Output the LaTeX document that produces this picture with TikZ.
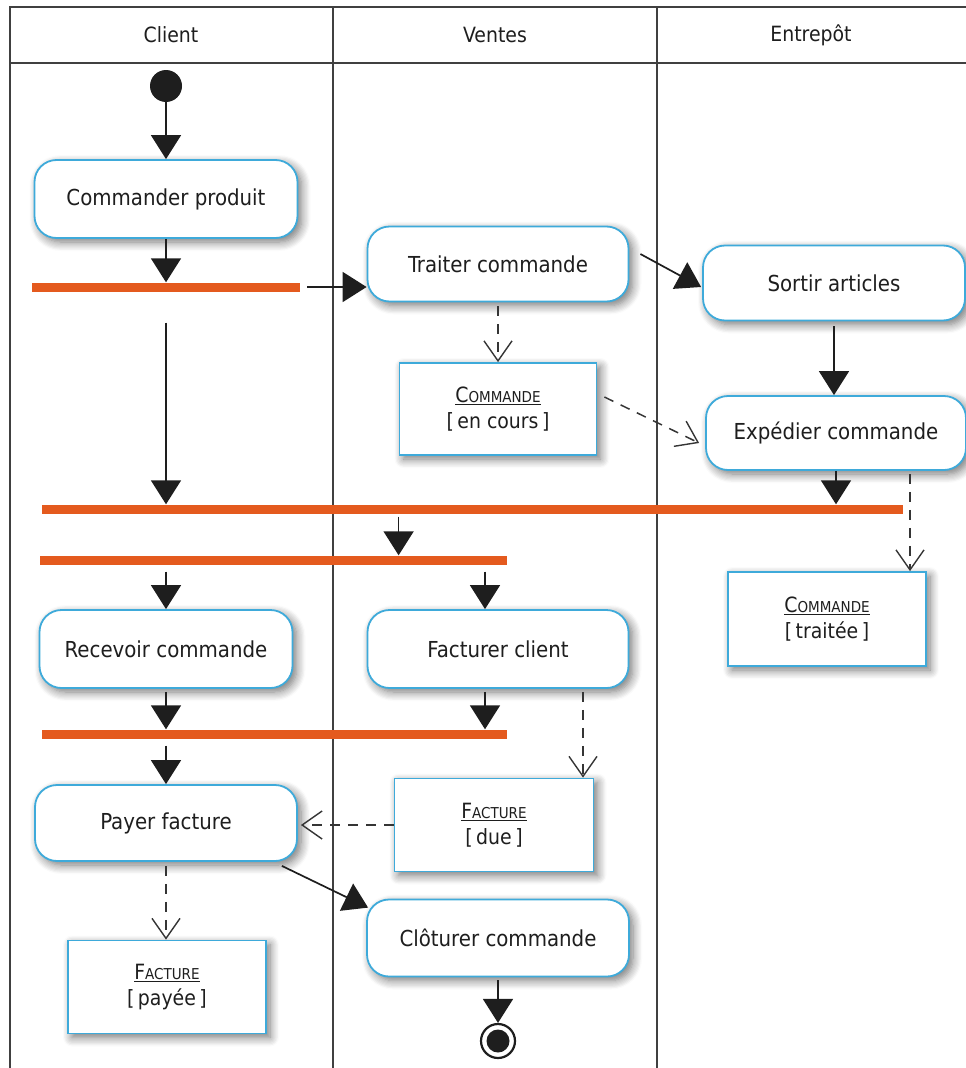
\documentclass[tikz,border=0pt]{standalone}
\usepackage{fontspec}
\setmainfont{DejaVu Sans Condensed}
\usetikzlibrary{arrows.meta,calc,shadows.blur}
\definecolor{actblue}{RGB}{62,170,218}
\definecolor{barorange}{RGB}{228,90,30}
\definecolor{ink}{RGB}{30,30,30}
\newcommand\objnm[2]{\underline{#1{\fontsize{15}{16}\selectfont #2}}}
\tikzset{
  shade/.style={blur shadow={shadow blur steps=8, shadow xshift=4pt, shadow yshift=-4pt, shadow blur radius=9pt, shadow opacity=55}},
  act/.style={draw=actblue, line width=1.8pt, rounded corners=22pt, fill=white, shade, text=ink,
    font=\fontsize{22}{25}\selectfont, align=center, inner sep=0pt},
  obj/.style={draw=actblue, line width=1.8pt, fill=white, shade, text=ink,
    font=\fontsize{21}{26}\selectfont, align=center, inner sep=0pt},
  bar/.style={fill=barorange, inner sep=0pt, minimum height=9pt},
  arr/.style={draw=ink, line width=1.7pt, -{Triangle[width=30pt,length=24pt]}},
  dep/.style={draw=ink!90, line width=1.5pt, dash pattern=on 10pt off 8pt, -{Straight Barb[width=28pt,length=20pt,line width=1.4pt]}},
  lane/.style={draw=ink!85, line width=1.4pt},
  lanelabel/.style={font=\fontsize{21}{24}\selectfont, text=ink}
}
\begin{document}
\begin{tikzpicture}[x=1pt,y=-1pt]
\useasboundingbox (0,0) rectangle (966,1068);
% swimlane frame
\draw[lane] (10,1068) -- (10,7) -- (966,7);
\draw[lane, line width=2.4pt] (10,63) -- (966,63);
\draw[lane] (333,7) -- (333,1068);
\draw[lane] (657,7) -- (657,1068);
\node[lanelabel] (hc) at (171,35) {Client};
\node[lanelabel] (hv) at (495,35) {Ventes};
\node[lanelabel] (he) at (811,35) {Entrepôt};

% nodes
\node[circle, fill=ink, minimum size=32pt, inner sep=0pt] (init) at (166,86) {};
\node[act, minimum width=263pt, minimum height=78pt] (cmd) at (166,199) {Commander produit};
\node[bar, minimum width=268pt] (b1) at (166,287) {};
\node[act, minimum width=261pt, minimum height=75pt] (trt) at (498,264) {Traiter commande};
\node[act, minimum width=262pt, minimum height=75pt] (sort) at (834,283) {Sortir articles};
\node[obj, minimum width=197pt, minimum height=92pt] (enc) at (498,409) {\objnm{C}{OMMANDE}\\{[}\,en cours\,{]}};
\node[act, minimum width=260pt, minimum height=74pt] (exp) at (836,433) {Expédier commande};
\node[bar, minimum width=861pt] (b2) at (472.5,509) {};
\node[bar, minimum width=467pt] (b3) at (273.5,560) {};
\node[obj, minimum width=198pt, minimum height=94pt] (trtee) at (827,619) {\objnm{C}{OMMANDE}\\{[}\,traitée\,{]}};
\node[act, minimum width=253pt, minimum height=78pt] (rec) at (166,649) {Recevoir commande};
\node[act, minimum width=261pt, minimum height=78pt] (fac) at (498,649) {Facturer client};
\node[bar, minimum width=465pt] (b4) at (274.5,734) {};
\node[obj, minimum width=199pt, minimum height=93pt] (due) at (494,825) {\objnm{F}{ACTURE}\\{[}\,due\,{]}};
\node[act, minimum width=262pt, minimum height=76pt] (pay) at (166,823) {Payer facture};
\node[obj, minimum width=198pt, minimum height=93pt] (paye) at (167,987) {\objnm{F}{ACTURE}\\{[}\,payée\,{]}};
\node[act, minimum width=262pt, minimum height=77pt] (clo) at (498,938) {Clôturer commande};
\node[circle, draw=ink, line width=2.2pt, minimum size=34pt, inner sep=0pt] (fin) at (498,1041) {};
\node[circle, fill=ink, minimum size=23pt, inner sep=0pt] (finin) at (fin) {};

% helper coordinates for offset object flows
\coordinate (dx1) at ($(exp.south)+(74,3)$);
\coordinate (dx2) at ($(fac.south)+(85,3)$);

% control flows
\draw[arr] (init) -- (cmd.north);
\draw[arr] (cmd.south) -- (b1.north);
\draw[arr] ($(b1.east)+(7,0)$) -- (b1.east -| trt.west);
\draw[arr] ($(trt.east)+(11,-10)$) -- ($(sort.west)+(-1,4)$);
\draw[arr] ($(sort.south)+(0,5)$) -- (sort.south |- exp.north);
\draw[arr] ($(b1.south)+(0,31)$) -- (b1.south |- b2.north);
\draw[arr] (exp.south) -- (exp.south |- b2.north);
\draw[arr] ($(b2.south -| enc.west)+(0,3)$) -- (b3.north -| enc.west);
\draw[arr] ($(b3.south -| rec.north)+(0,7)$) -- (rec.north);
\draw[arr] ($(b3.south -| fac.north)+(-13,7)$) -- ($(fac.north)+(-13,0)$);
\draw[arr] ($(rec.south)+(0,3)$) -- (rec.south |- b4.north);
\draw[arr] ($(fac.south)+(-13,3)$) -- ($(fac.south |- b4.north)+(-13,0)$);
\draw[arr] ($(b4.south -| pay.north)+(0,7)$) -- (pay.north);
\draw[arr] ($(pay.south east)+(-16,4)$) -- ($(clo.north west)+(2,9)$);
\draw[arr] ($(clo.south)+(0,3)$) -- (fin.north);

% object flows
\draw[dep] ($(trt.south)+(0,4)$) -- (enc.north);
\draw[dep] ($(enc.east)+(7,-12)$) -- ($(exp.west)+(-6,10)$);
\draw[dep] (dx1) -- (dx1 |- trtee.north);
\draw[dep] (dx2) -- (dx2 |- due.north);
\draw[dep] (due.west) -- ($(pay.east)+(3,2)$);
\draw[dep] ($(pay.south)+(0,4)$) -- (paye.north -| pay.south);
\end{tikzpicture}
\end{document}
